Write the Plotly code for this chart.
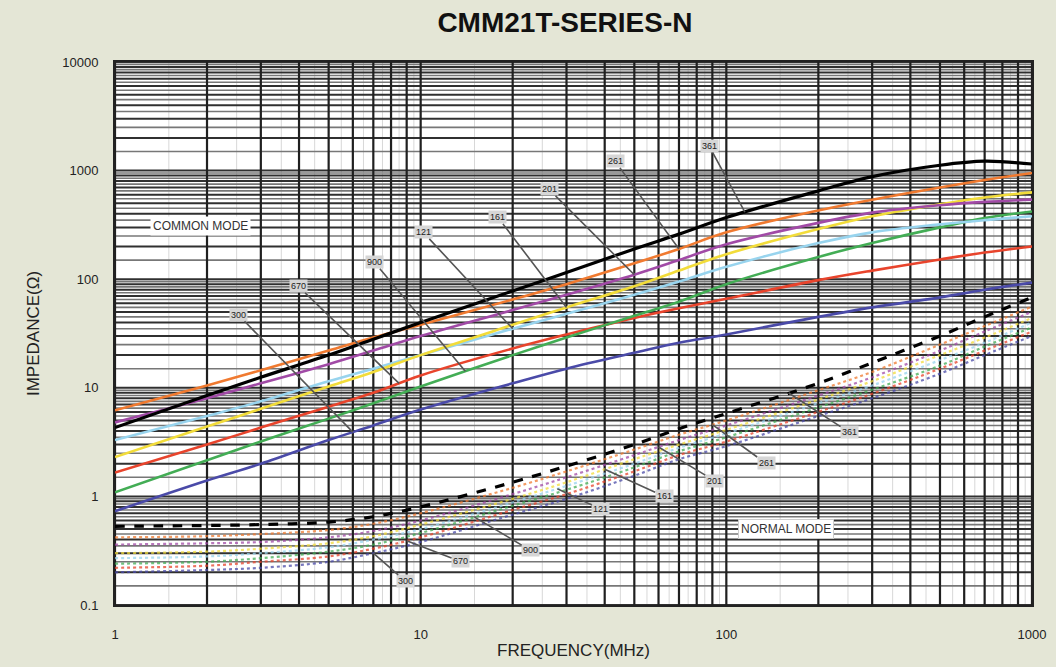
import numpy as np
import plotly.graph_objects as go

# ---------------- data ----------------
freq = [1, 2, 3, 5, 7, 10, 20, 30, 50, 70, 100, 200, 300, 500, 700, 1000]

parts = ["300", "670", "900", "121", "161", "201", "261", "361"]
colors = ["#4a4aa8", "#e8442c", "#43ad55", "#98d4ee", "#f2dc3a", "#a14aa6", "#f07a30", "#000000"]

cm_300 = [0.73, 1.4, 2.0, 3.3, 4.5, 6.3, 11, 15, 21, 26, 31, 45, 55, 68, 80, 93]
cm_670 = [1.66, 3.0, 4.3, 6.7, 9.0, 13, 23, 31, 44, 54, 66, 98, 120, 152, 176, 200]
cm_900 = [1.09, 2.15, 3.2, 5.2, 7.2, 10.3, 20, 29, 46, 62, 90, 160, 215, 300, 365, 420]
cm_121 = [3.3, 5.5, 7.5, 11.5, 15, 20, 35, 48, 72, 95, 130, 215, 270, 320, 350, 380]
cm_161 = [2.3, 4.4, 6.4, 10.3, 14, 20, 38, 55, 86, 120, 170, 290, 380, 490, 565, 630]
cm_201 = [4.8, 8.0, 11, 16.5, 22, 30, 52, 72, 110, 150, 210, 330, 410, 480, 515, 540]
cm_261 = [6.2, 10.5, 14.5, 22, 29, 38, 65, 90, 140, 190, 270, 430, 540, 700, 820, 950]
cm_361 = [4.3, 8.5, 12.5, 20, 28, 40, 78, 115, 190, 260, 370, 650, 880, 1120, 1220, 1150]

nm_300 = [0.20, 0.21, 0.22, 0.25, 0.30, 0.38, 0.68, 0.95, 1.55, 2.2, 2.9, 5.5, 8.0, 13.5, 20, 30]
nm_670 = [0.22, 0.23, 0.25, 0.28, 0.33, 0.42, 0.75, 1.05, 1.7, 2.4, 3.2, 6.0, 8.8, 15, 22, 33]
nm_900 = [0.24, 0.25, 0.27, 0.31, 0.36, 0.46, 0.82, 1.15, 1.85, 2.6, 3.5, 6.6, 9.6, 16, 24, 36]
nm_121 = [0.27, 0.28, 0.30, 0.34, 0.40, 0.50, 0.88, 1.25, 2.0, 2.8, 3.8, 7.2, 10.5, 18, 26, 40]
nm_161 = [0.30, 0.31, 0.33, 0.37, 0.43, 0.55, 0.95, 1.35, 2.2, 3.0, 4.1, 7.8, 11.5, 20, 29, 44]
nm_201 = [0.36, 0.37, 0.38, 0.42, 0.48, 0.60, 1.05, 1.5, 2.4, 3.3, 4.5, 8.5, 12.5, 22, 33, 50]
nm_261 = [0.42, 0.43, 0.45, 0.49, 0.56, 0.70, 1.20, 1.7, 2.7, 3.7, 5.0, 9.5, 14, 25, 37, 56]
nm_361 = [0.53, 0.54, 0.55, 0.58, 0.65, 0.80, 1.35, 1.9, 3.0, 4.2, 5.8, 11, 17, 30, 45, 68]

common = [cm_300, cm_670, cm_900, cm_121, cm_161, cm_201, cm_261, cm_361]
normal = [nm_300, nm_670, nm_900, nm_121, nm_161, nm_201, nm_261, nm_361]

# label positions (freq, impedance) and leader tip frequencies
cm_label_f = [2.53, 3.98, 7.06, 10.2, 17.9, 26.3, 43.3, 88]
cm_label_z = [47, 86, 143, 270, 371, 671, 1216, 1670]
cm_tip_f = [6.0, 8.5, 14, 20, 30, 50, 70, 115]

nm_label_f = [8.93, 13.5, 22.9, 38.9, 62.6, 91.3, 135, 253]
nm_label_z = [0.165, 0.252, 0.318, 0.759, 1.0, 1.40, 2.01, 3.88]
nm_tip_f = [7, 9, 15, 28, 40, 60, 90, 160]

x_ticks = [1, 10, 100, 1000]
x_tick_text = ["1", "10", "100", "1000"]
y_ticks = [0.1, 1, 10, 100, 1000, 10000]
y_tick_text = ["0.1", "1", "10", "100", "1000", "10000"]

x_decades = [1, 10, 100]
y_decades = [0.1, 1, 10, 100, 1000]
int_mult = [1, 2, 3, 4, 5, 6, 7, 8, 9]
half_mult = [1.5, 2.5, 3.5, 4.5, 5.5, 6.5, 7.5, 8.5, 9.5]

FONT = "Liberation Sans Narrow, Liberation Sans, Arial, sans-serif"
BG = "#e4e6d6"

fig = go.Figure()

# ---------------- grid (drawn as line traces) ----------------
def vlines(vals):
    xs, ys = [], []
    for v in vals:
        xs += [v, v, None]
        ys += [0.1, 10000, None]
    return xs, ys

def hlines(vals):
    xs, ys = [], []
    for v in vals:
        xs += [1, 1000, None]
        ys += [v, v, None]
    return xs, ys

vx_half = [m * d for d in x_decades for m in half_mult]
xs, ys = vlines(vx_half)
fig.add_trace(go.Scatter(x=xs, y=ys, mode="lines", line=dict(color="#d8d8d8", width=1),
                         hoverinfo="skip", showlegend=False))

hy_half = [m * d for d in y_decades for m in half_mult]
xs, ys = hlines(hy_half)
fig.add_trace(go.Scatter(x=xs, y=ys, mode="lines", line=dict(color="#777777", width=1.6),
                         hoverinfo="skip", showlegend=False))

hy_int = [m * d for d in y_decades for m in int_mult] + [10000]
xs, ys = hlines(hy_int)
fig.add_trace(go.Scatter(x=xs, y=ys, mode="lines", line=dict(color="#303030", width=2),
                         hoverinfo="skip", showlegend=False))

vx_int = [m * d for d in x_decades for m in int_mult] + [1000]
xs, ys = vlines(vx_int)
fig.add_trace(go.Scatter(x=xs, y=ys, mode="lines", line=dict(color="#202020", width=2.2),
                         hoverinfo="skip", showlegend=False))

# ---------------- curves ----------------
for name, col, vals in zip(parts, colors, normal):
    if name == "361":
        ln = dict(color="#000000", width=3.2, dash="dash", shape="spline")
        op = 1.0
    else:
        ln = dict(color=col, width=2.2, dash="dot", shape="spline")
        op = 0.75
    fig.add_trace(go.Scatter(x=freq, y=vals, mode="lines", line=ln, opacity=op,
                             name=name + " normal", showlegend=False))

for name, col, vals in zip(parts, colors, common):
    w = 3.2 if name == "361" else 2.6
    fig.add_trace(go.Scatter(x=freq, y=vals, mode="lines",
                             line=dict(color=col, width=w, shape="spline"),
                             name=name + " common", showlegend=False))

# ---------------- labels ----------------
lf = np.log10(freq)

def tip(series, f):
    return float(np.interp(np.log10(f), lf, np.log10(series)))

annotations = []
for group, lab_f, lab_z, tip_f in ((common, cm_label_f, cm_label_z, cm_tip_f),
                                   (normal, nm_label_f, nm_label_z, nm_tip_f)):
    for name, vals, f_l, z_l, f_t in zip(parts, group, lab_f, lab_z, tip_f):
        annotations.append(dict(
            x=np.log10(f_t), y=tip(vals, f_t), xref="x", yref="y",
            ax=np.log10(f_l), ay=np.log10(z_l), axref="x", ayref="y",
            text=name, showarrow=True, arrowhead=0, arrowwidth=1.6, arrowcolor="#555555",
            font=dict(family=FONT, size=9, color="#222222"),
            bgcolor="#d6d6d6", borderpad=1))

annotations.append(dict(x=np.log10(1.9), y=np.log10(306), xref="x", yref="y",
                        text="COMMON MODE", showarrow=False,
                        font=dict(family=FONT, size=12, color="#333333"),
                        bgcolor="#ffffff", borderpad=2))
annotations.append(dict(x=np.log10(157), y=np.log10(0.497), xref="x", yref="y",
                        text="NORMAL MODE", showarrow=False,
                        font=dict(family=FONT, size=12, color="#333333"),
                        bgcolor="#ffffff", bordercolor="#cccccc", borderpad=2))

fig.update_layout(
    width=1056, height=667,
    paper_bgcolor=BG, plot_bgcolor="#ffffff",
    margin=dict(l=115, r=24, t=62, b=62),
    title=dict(text="<b>CMM21T-SERIES-N</b>", x=0.535, xanchor="center", y=0.967, yanchor="middle",
               font=dict(family=FONT, size=28, color="#111111")),
    annotations=annotations,
    font=dict(family=FONT, color="#222222"),
)
fig.update_xaxes(type="log", range=[0, 3], tickvals=x_ticks, ticktext=x_tick_text,
                 showgrid=False, zeroline=False, showline=True, linecolor="#222222", linewidth=2,
                 mirror=True, ticks="", tickfont=dict(size=13), ticklabelstandoff=16,
                 automargin=False,
                 title=dict(text="FREQUENCY(MHz)", font=dict(size=17), standoff=4))
fig.update_yaxes(type="log", range=[-1, 4], tickvals=y_ticks, ticktext=y_tick_text,
                 showgrid=False, zeroline=False, showline=True, linecolor="#222222", linewidth=2,
                 mirror=True, ticks="", tickfont=dict(size=13), ticklabelstandoff=12,
                 automargin=False,
                 title=dict(text="IMPEDANCE(Ω)", font=dict(size=17), standoff=18))

fig.write_html("out.html", config={"displayModeBar": False},
               post_script="document.body.style.margin='0';document.body.style.background='%s';" % BG)
